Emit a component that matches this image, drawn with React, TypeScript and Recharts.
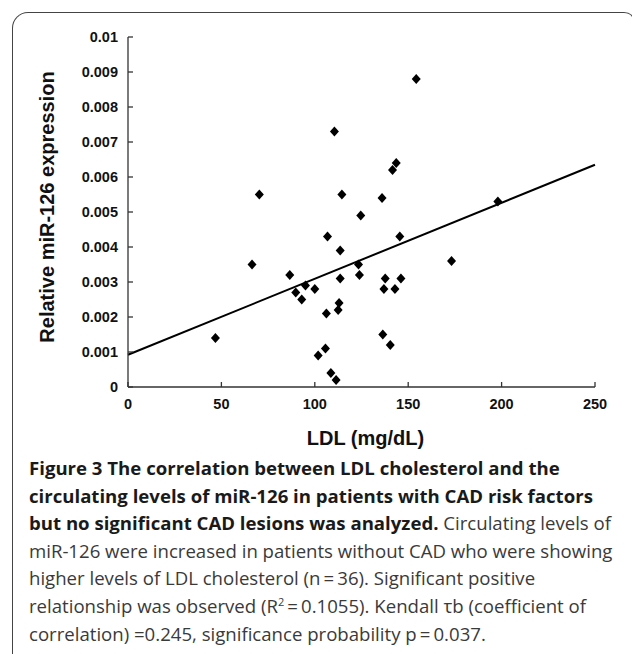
import React from 'react';
import {
  ScatterChart, Scatter, XAxis, YAxis, ReferenceLine, Label,
} from 'recharts';

// LDL (mg/dL) vs relative miR-126 expression, n = 36
const ldl = [
  46.8, 66.4, 70.3, 86.6, 89.8, 93, 95, 100, 101.8, 105.7,
  106.2, 106.8, 108.6, 110.5, 111.4, 112.5, 113, 113.6, 113.6, 114.5,
  123.4, 123.9, 124.6, 136, 136.4, 137, 137.7, 140.4, 141.6, 142.9,
  143.6, 145.5, 146.1, 154.3, 173.2, 198,
];
const mir126 = [
  0.0014, 0.0035, 0.0055, 0.0032, 0.0027, 0.0025, 0.0029, 0.0028, 0.0009, 0.0011,
  0.0021, 0.0043, 0.0004, 0.0073, 0.0002, 0.0022, 0.0024, 0.0039, 0.0031, 0.0055,
  0.0035, 0.0032, 0.0049, 0.0054, 0.0015, 0.0028, 0.0031, 0.0012, 0.0062, 0.0028,
  0.0064, 0.0043, 0.0031, 0.0088, 0.0036, 0.0053,
];

// fitted regression line end points
const fitX = [0, 250];
const fitY = [0.00092, 0.00635];

const xTicks = [0, 50, 100, 150, 200, 250];
const yTicks = [0, 0.001, 0.002, 0.003, 0.004, 0.005, 0.006, 0.007, 0.008, 0.009, 0.01];

const points = ldl.map((x, i) => ({ x, y: mir126[i] }));

const AXIS = '#333';
const AXIS_FONT = '"Liberation Sans", Arial, sans-serif';

const Diamond = (props: any) => {
  const { cx, cy } = props;
  return <path d={`M${cx},${cy - 5}L${cx + 4.5},${cy}L${cx},${cy + 5}L${cx - 4.5},${cy}Z`} fill="#000" />;
};

const YTick = (props: any) => {
  const { x, y, payload } = props;
  const v = payload.value === 0 ? '0' : String(+Number(payload.value).toFixed(3));
  return (
    <g>
      <line x1={x} y1={y} x2={x + 5} y2={y} stroke={AXIS} strokeWidth={1.3} />
      <text x={x - 10} y={y} dy={5} textAnchor="end" fontFamily={AXIS_FONT} fontWeight="bold" fontSize={14.5} fill="#111">{v}</text>
    </g>
  );
};

const XTick = (props: any) => {
  const { x, y, payload } = props;
  return (
    <g>
      <line x1={x} y1={y} x2={x} y2={y - 5} stroke={AXIS} strokeWidth={1.3} />
      <text x={x} y={y} dy={22} textAnchor="middle" fontFamily={AXIS_FONT} fontWeight="bold" fontSize={14.5} fill="#111">{payload.value}</text>
    </g>
  );
};

const captionBold = [
  'Figure 3 The correlation between LDL cholesterol and the',
  'circulating levels of miR-126 in patients with CAD risk factors',
  'but no significant CAD lesions was analyzed.',
];

export default function App() {
  return (
    <div style={{ position: 'absolute', left: 0, top: 0, width: 632, height: 654, overflow: 'hidden', background: '#fff' }}>
      <div style={{
        position: 'absolute', left: 12, top: 12, width: 622, height: 700,
        borderLeft: '1.5px solid #444', borderTop: '1.5px solid #444', borderRight: '1.5px solid #444',
        borderTopLeftRadius: 16, borderTopRightRadius: 12,
      }} />
      <div style={{ position: 'absolute', left: 0, top: 0 }}>
        <ScatterChart width={632} height={460} margin={{ top: 37, right: 37, bottom: 43, left: 68 }}>
          <XAxis
            type="number" dataKey="x" domain={[0, 250]} ticks={xTicks} interval={0}
            height={30} tickSize={0} tickMargin={0} tickLine={false}
            axisLine={{ stroke: AXIS, strokeWidth: 1.3 }} tick={<XTick />}
          >
            <Label
              content={(p: any) => {
                const vb = p.viewBox;
                return (
                  <text x={vb.x + vb.width / 2 + 4} y={vb.y + 58} textAnchor="middle" fontFamily={AXIS_FONT} fontWeight="bold" fontSize={20} fill="#111">
                    LDL (mg/dL)
                  </text>
                );
              }}
            />
          </XAxis>
          <YAxis
            type="number" dataKey="y" domain={[0, 0.01]} ticks={yTicks} interval={0}
            width={60} tickSize={0} tickMargin={0} tickLine={false}
            axisLine={{ stroke: AXIS, strokeWidth: 1.3 }} tick={<YTick />}
          >
            <Label
              content={(p: any) => {
                const vb = p.viewBox;
                const cx = vb.x - 14;
                const cy = vb.y + vb.height / 2 - 5;
                return (
                  <text x={cx} y={cy} transform={`rotate(-90 ${cx} ${cy})`} textAnchor="middle" fontFamily={AXIS_FONT} fontWeight="bold" fontSize={20} fill="#111">
                    Relative miR-126 expression
                  </text>
                );
              }}
            />
          </YAxis>
          <ReferenceLine
            segment={[{ x: fitX[0], y: fitY[0] }, { x: fitX[1], y: fitY[1] }]}
            stroke="#000" strokeWidth={2} ifOverflow="visible"
          />
          <Scatter data={points} shape={<Diamond />} isAnimationActive={false} />
        </ScatterChart>
      </div>
      <div style={{
        position: 'absolute', left: 29, top: 454, fontFamily: '"Open Sans", sans-serif',
        fontSize: 18.6, lineHeight: '27.6px', color: '#3a3a3a', whiteSpace: 'nowrap',
      }}>
        <div style={{ fontWeight: 700, color: '#1a1a1a' }}>{captionBold[0]}</div>
        <div style={{ fontWeight: 700, color: '#1a1a1a' }}>{captionBold[1]}</div>
        <div><span style={{ fontWeight: 700, color: '#1a1a1a' }}>{captionBold[2]}</span> Circulating levels of</div>
        <div>miR-126 were increased in patients without CAD who were showing</div>
        <div>higher levels of LDL cholesterol (n{'\u2009'}={'\u2009'}36). Significant positive</div>
        <div>relationship was observed (R<sup style={{ fontSize: 11, lineHeight: 0 }}>2</sup>{'\u2009'}={'\u2009'}0.1055). Kendall τb (coefficient of</div>
        <div>correlation) =0.245, significance probability p{'\u2009'}={'\u2009'}0.037.</div>
      </div>
    </div>
  );
}
